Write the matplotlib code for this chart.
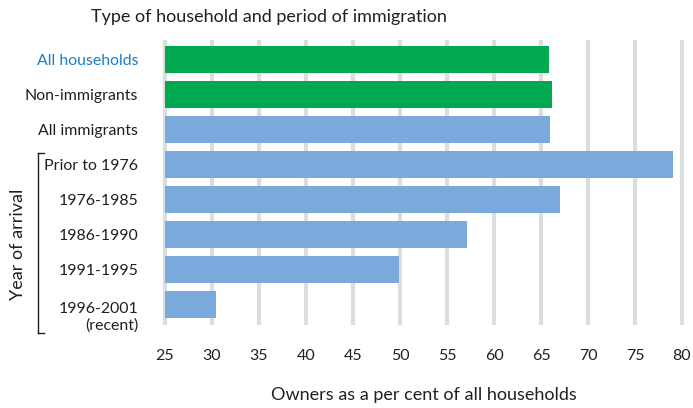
import matplotlib
matplotlib.use("Agg")
import matplotlib.pyplot as plt
from matplotlib.lines import Line2D
from matplotlib.transforms import ScaledTranslation

# household groups, top to bottom
categories = ["All households", "Non-immigrants", "All immigrants",
              "Prior to 1976", "1976-1985", "1986-1990", "1991-1995",
              "1996-2001\n(recent)"]
owners_pct = [65.8, 66.2, 66.0, 79.0, 67.0, 57.1, 49.9, 30.4]
bar_colors = ["#00a84f", "#00a84f"] + ["#7aaadb"] * 6
x_ticks = list(range(25, 81, 5))

plt.rcParams["font.family"] = ["Lato", "DejaVu Sans"]
text_color = "#231f20"

fig = plt.figure(figsize=(6.93, 4.08), dpi=100)
ax = fig.add_axes([0.2326, 0.2034, 0.757, 0.699])

ypos = list(range(len(categories)))
ax.barh(ypos, [v - 25 for v in owners_pct], left=25, height=0.77,
        color=bar_colors, zorder=3)

ax.set_xlim(24.6, 80.4)
ax.set_ylim(7.58, -0.56)
ax.set_xticks(x_ticks)
ax.set_xticklabels([str(t) for t in x_ticks], fontsize=11.5, color=text_color)
ax.set_yticks(ypos)
ax.set_yticklabels(categories, fontsize=11.4, color=text_color,
                   linespacing=1.2)
ax.tick_params(axis="x", length=0, pad=17)
ax.tick_params(axis="y", length=0, pad=16.5)

ylabels = ax.get_yticklabels()
ylabels[0].set_color("#1a7fc9")
# two-line label hangs below its bar centre
last = ylabels[-1]
last.set_transform(last.get_transform() +
                   ScaledTranslation(0, -7.2 / 72, fig.dpi_scale_trans))

ax.xaxis.grid(True, color="#dcdddf", linewidth=3, zorder=0)
ax.set_axisbelow(True)
for s in ax.spines.values():
    s.set_visible(False)

fig.text(424 / 693, 1 - 395 / 408, "Owners as a per cent of all households",
         fontsize=13, color=text_color, ha="center", va="center")
fig.text(91 / 693, 1 - 17 / 408, "Type of household and period of immigration",
         fontsize=13, color=text_color, ha="left", va="center")

# bracket grouping the arrival periods
bx, bx2 = 38 / 693, 44 / 693
by0, by1 = 1 - 153 / 408, 1 - 333 / 408
for xs, ys in [([bx, bx], [by0, by1]), ([bx, bx2], [by0, by0]),
               ([bx, bx2], [by1, by1])]:
    fig.add_artist(Line2D(xs, ys, transform=fig.transFigure,
                          color=text_color, linewidth=1))
fig.text(18 / 693, 1 - 244 / 408, "Year of arrival", rotation=90,
         fontsize=13, color=text_color, ha="center", va="center")

fig.savefig("out.png", dpi=100)
